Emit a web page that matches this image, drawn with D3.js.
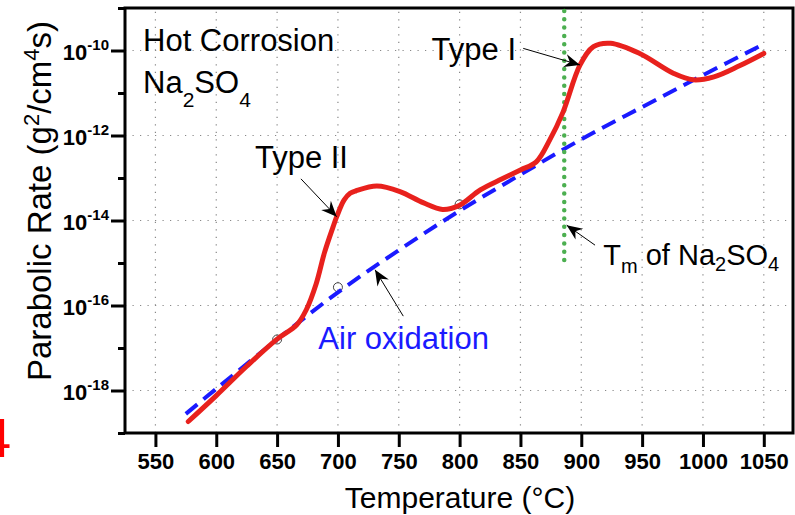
<!DOCTYPE html>
<html>
<head>
<meta charset="utf-8">
<script src="https://cdn.jsdelivr.net/npm/d3@7"></script>
<style>
  body { margin: 0; background: #fff; }
  text { font-family: "Liberation Sans", Arial, Helvetica, sans-serif; }
</style>
</head>
<body>
<script>
// Width and height
var w = 795;
var h = 515;

// air oxidation (blue dashed), log10 of rate
var airT   = [575, 600, 650, 700, 750, 800, 850, 900, 950, 1000, 1050];
var airLog = [-18.55, -17.96, -16.80, -15.69, -14.70, -13.77, -12.92, -12.09, -11.33, -10.58, -9.85];

// hot corrosion (red), log10 of rate
var hotT   = [577, 600, 625, 650, 666, 674, 682, 689, 696, 699, 705, 710, 715, 732, 751, 770, 786, 800, 817, 835, 850, 863, 874, 885, 899, 910, 924, 948, 976, 992, 1009, 1030, 1050];
var hotLog = [-18.73, -18.12, -17.43, -16.79, -16.46, -16.1, -15.5, -14.75, -14.15, -13.91, -13.52, -13.36, -13.30, -13.19, -13.32, -13.58, -13.74, -13.64, -13.28, -13.02, -12.81, -12.62, -12.11, -11.45, -10.34, -9.91, -9.83, -10.07, -10.54, -10.69, -10.62, -10.36, -10.07];

// open circles
var dotT   = [650, 700, 800];
var dotLog = [-16.80, -15.57, -13.62];

// melting point of Na2SO4
var tMelt = 886;
var tMeltLog = [-9, -15.02];

var xTicks = [550, 600, 650, 700, 750, 800, 850, 900, 950, 1000, 1050];
var yMajorExp = [-18, -16, -14, -12, -10];
var yMinorExp = [-19, -17, -15, -13, -11, -9];

var x = d3.scaleLinear().domain([525, 1074]).range([125, 793]);
var y = d3.scaleLog().domain([1e-19, 1e-9]).range([433, 8]);
function p(e) { return Math.pow(10, e); }

var svg = d3.select("body")
            .append("svg")
            .attr("width", w)
            .attr("height", h);

var defs = svg.append("defs");
defs.append("marker")
    .attr("id", "arr")
    .attr("markerUnits", "userSpaceOnUse")
    .attr("markerWidth", 20).attr("markerHeight", 20)
    .attr("viewBox", "-16 -8 18 16")
    .attr("refX", 0).attr("refY", 0)
    .attr("orient", "auto")
    .append("path")
    .attr("d", "M0,0 L-14,-6 L-9.5,0 L-14,6 Z")
    .attr("fill", "#000");

// grid
svg.selectAll(".vgrid")
   .data(xTicks)
   .enter()
   .append("line")
   .attr("x1", function(d) { return x(d); })
   .attr("x2", function(d) { return x(d); })
   .attr("y1", y(1e-19)).attr("y2", y(1e-9))
   .attr("stroke", "#888").attr("stroke-width", 1.2)
   .attr("stroke-dasharray", "1.2,6.3");
svg.selectAll(".hgrid")
   .data(yMajorExp)
   .enter()
   .append("line")
   .attr("x1", x(525)).attr("x2", x(1074))
   .attr("y1", function(d) { return y(p(d)); })
   .attr("y2", function(d) { return y(p(d)); })
   .attr("stroke", "#888").attr("stroke-width", 1.2)
   .attr("stroke-dasharray", "1.2,6.3");

// axes
var xAxis = svg.append("g")
   .attr("transform", "translate(0," + y(1e-19) + ")")
   .call(d3.axisBottom(x).tickValues(xTicks).tickSize(14).tickPadding(6).tickFormat(d3.format("d")));
xAxis.select(".domain").remove();
xAxis.selectAll("line").attr("stroke-width", 3);
xAxis.selectAll("text")
   .attr("font-family", "Liberation Sans, Arial, sans-serif")
   .attr("font-size", 22).attr("font-weight", "bold").attr("fill", "#000");

var yAxis = svg.append("g")
   .attr("transform", "translate(" + x(525) + ",0)")
   .call(d3.axisLeft(y).tickValues(yMajorExp.map(p)).tickSize(14).tickFormat(""));
yAxis.select(".domain").remove();
yAxis.selectAll("line").attr("stroke-width", 3);
var yMinor = svg.append("g")
   .attr("transform", "translate(" + x(525) + ",0)")
   .call(d3.axisLeft(y).tickValues(yMinorExp.map(p)).tickSize(7).tickFormat(""));
yMinor.select(".domain").remove();
yMinor.selectAll("line").attr("stroke-width", 3);

var yLab = svg.selectAll(".ylab")
   .data(yMajorExp)
   .enter()
   .append("text")
   .attr("text-anchor", "end")
   .attr("x", 109)
   .attr("y", function(d) { return y(p(d)) + 9; })
   .attr("font-size", 22).attr("font-weight", "bold");
yLab.append("tspan").text("10");
yLab.append("tspan").attr("dy", -10).attr("font-size", 15).text(function(d) { return d; });

// frame
svg.append("rect")
   .attr("x", x(525)).attr("y", y(1e-9))
   .attr("width", x(1074) - x(525)).attr("height", y(1e-19) - y(1e-9))
   .attr("fill", "none").attr("stroke", "#000").attr("stroke-width", 3);

// circles
svg.selectAll("circle")
   .data(dotT)
   .enter()
   .append("circle")
   .attr("cx", function(d) { return x(d); })
   .attr("cy", function(d, i) { return y(p(dotLog[i])); })
   .attr("r", 4.5)
   .attr("fill", "none").attr("stroke", "#444").attr("stroke-width", 1);

// lines
var line = d3.line()
   .x(function(d) { return x(d[0]); })
   .y(function(d) { return y(p(d[1])); })
   .curve(d3.curveCatmullRom.alpha(0.5));

svg.append("path")
   .datum(airT.map(function(t, i) { return [t, airLog[i]]; }))
   .attr("d", line)
   .attr("fill", "none").attr("stroke", "#1a1aff").attr("stroke-width", 4)
   .attr("stroke-dasharray", "15,8");

svg.append("line")
   .attr("x1", x(tMelt)).attr("x2", x(tMelt))
   .attr("y1", y(p(tMeltLog[0])) + 3).attr("y2", y(p(tMeltLog[1])))
   .attr("stroke", "#4caf50").attr("stroke-width", 4.5)
   .attr("stroke-linecap", "round")
   .attr("stroke-dasharray", "0,8.3");

svg.append("path")
   .datum(hotT.map(function(t, i) { return [t, hotLog[i]]; }))
   .attr("d", line)
   .attr("fill", "none").attr("stroke", "#e8211d").attr("stroke-width", 5)
   .attr("stroke-linecap", "round");

// arrows: [tailT, tailLog, tipT, tipLog]
var arrows = [
  [669.6, -13.02, 699.0, -13.91],
  [852.3, -9.95, 898.9, -10.34],
  [753.7, -16.25, 730.5, -15.16],
  [911.3, -14.58, 888.0, -14.11]
];
svg.selectAll(".arrow")
   .data(arrows)
   .enter()
   .append("line")
   .attr("x1", function(d) { return x(d[0]); })
   .attr("y1", function(d) { return y(p(d[1])); })
   .attr("x2", function(d) { return x(d[2]); })
   .attr("y2", function(d) { return y(p(d[3])); })
   .attr("stroke", "#000").attr("stroke-width", 1)
   .attr("marker-end", "url(#arr)");

// labels
var fs = 31;
svg.append("text").attr("x", x(539.8)).attr("y", y(p(-10.0)))
   .attr("font-size", fs).text("Hot Corrosion");

var na = svg.append("text").attr("x", x(539.8)).attr("y", y(p(-11.0))).attr("font-size", fs);
na.append("tspan").text("Na");
na.append("tspan").attr("dy", 14).attr("font-size", 21).text("2");
na.append("tspan").attr("dy", -14).text("SO");
na.append("tspan").attr("dy", 14).attr("font-size", 21).text("4");

svg.append("text").attr("x", x(631.8)).attr("y", y(p(-12.77)))
   .attr("font-size", fs).text("Type II");
svg.append("text").attr("x", x(777)).attr("y", y(p(-10.22)))
   .attr("font-size", fs).text("Type I");
svg.append("text").attr("x", x(683.9)).attr("y", y(p(-17.03)))
   .attr("font-size", fs).attr("fill", "#1a1aff").text("Air oxidation");

var tm = svg.append("text").attr("x", x(918.1)).attr("y", y(p(-15.05))).attr("font-size", 29);
tm.append("tspan").text("T");
tm.append("tspan").attr("dy", 8).attr("font-size", 20).text("m");
tm.append("tspan").attr("dy", -8).text(" of Na");
tm.append("tspan").attr("dy", 6).attr("font-size", 20).text("2");
tm.append("tspan").attr("dy", -6).text("SO");
tm.append("tspan").attr("dy", 6).attr("font-size", 20).text("4");

// axis titles
svg.append("text")
   .attr("x", 460).attr("y", 508)
   .attr("text-anchor", "middle")
   .attr("font-size", 30)
   .text("Temperature (\u00B0C)");

var yt = svg.append("text")
   .attr("transform", "translate(51,201) rotate(-90)")
   .attr("text-anchor", "middle")
   .attr("font-size", 33);
yt.append("tspan").text("Parabolic Rate (g");
yt.append("tspan").attr("dy", -12).attr("font-size", 22).text("2");
yt.append("tspan").attr("dy", 12).text("/cm");
yt.append("tspan").attr("dy", -12).attr("font-size", 22).text("4");
yt.append("tspan").attr("dy", 12).text("s)");

// panel number, cut off at the left edge
svg.append("text")
   .attr("x", -20).attr("y", 457)
   .attr("font-size", 56)
   .attr("fill", "#ff0000")
   .text("4");
</script>
</body>
</html>
